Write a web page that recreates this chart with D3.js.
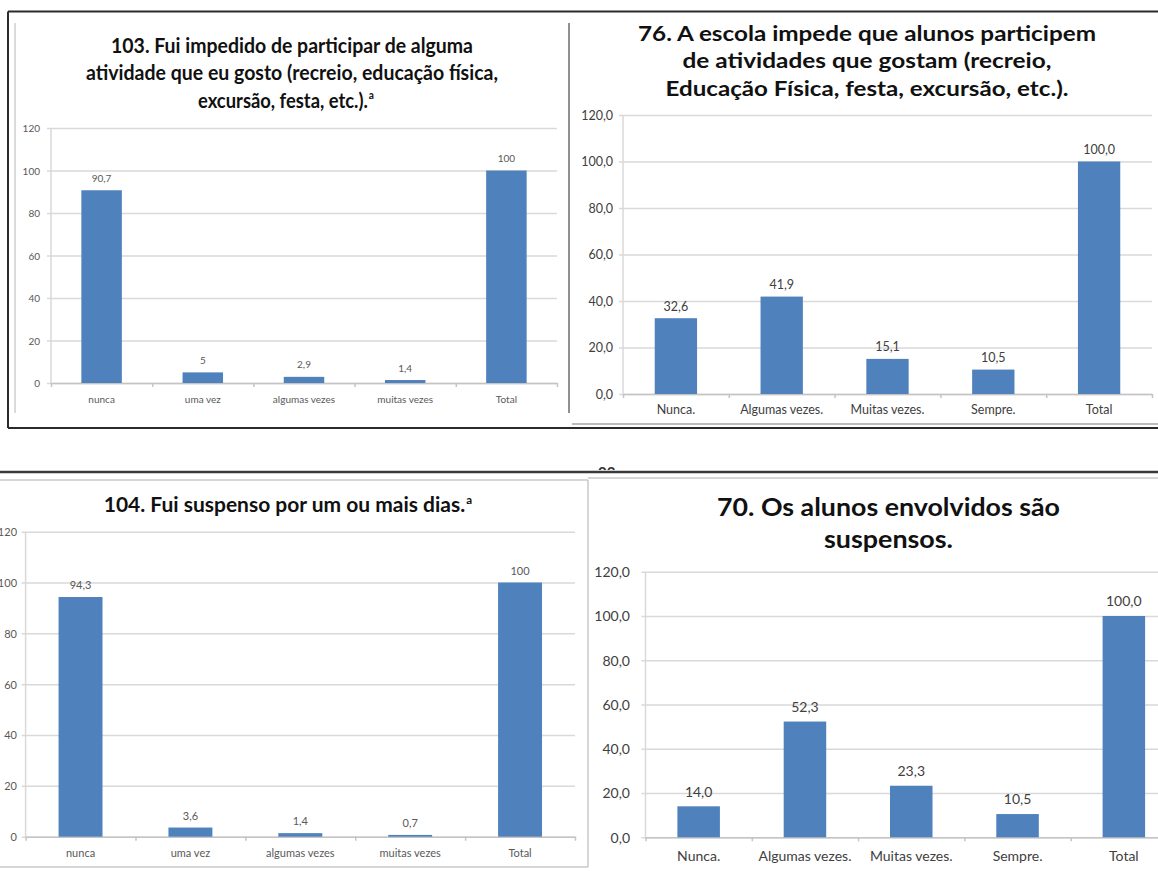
<!DOCTYPE html>
<html>
<head>
<meta charset="utf-8">
<script src="https://cdn.jsdelivr.net/npm/d3@7"></script>
<style>
  body { margin: 0; background: #fff; }
  svg { display: block; }
  text { font-family: Lato, "Open Sans", sans-serif; }
</style>
</head>
<body>
<svg id="chart" width="1158" height="871"></svg>
<script>
// Response categories
const catsStudent = ["nunca", "uma vez", "algumas vezes", "muitas vezes", "Total"];
const catsSchool = ["Nunca.", "Algumas vezes.", "Muitas vezes.", "Sempre.", "Total"];

// Percentages per question
const vals103 = [90.7, 5, 2.9, 1.4, 100];
const vals76 = [32.6, 41.9, 15.1, 10.5, 100.0];
const vals104 = [94.3, 3.6, 1.4, 0.7, 100];
const vals70 = [14.0, 52.3, 23.3, 10.5, 100.0];

// Value axis ticks
const yTicks = [0, 20, 40, 60, 80, 100, 120];

// Titles (one entry per line)
const title103 = ["103. Fui impedido de participar de alguma",
                  "atividade que eu gosto (recreio, educação física,",
                  "excursão, festa, etc.)."];
const title76 = ["76. A escola impede que alunos participem",
                 "de atividades que gostam (recreio,",
                 "Educação Física, festa, excursão, etc.)."];
const title104 = ["104. Fui suspenso por um ou mais dias."];
const title70 = ["70. Os alunos envolvidos são", "suspensos."];

const BAR = "#4F81BD";
const GRID = "#d9d9d9";

const ptLocale = d3.formatLocale({ decimal: ",", thousands: ".", grouping: [3], currency: ["R$", ""] });
const fmtPlain = v => ptLocale.format(",")(v);          // 90,7  5  100
const fmtOne = ptLocale.format(".1f");                  // 32,6  100,0

const svg = d3.select("#chart");

// ---- panel frames ----
const frame = svg.append("g").attr("fill", "none");
function seg(x1, y1, x2, y2, color, w) {
  frame.append("line").attr("x1", x1).attr("y1", y1).attr("x2", x2).attr("y2", y2)
    .attr("stroke", color).attr("stroke-width", w);
}
// top row outer box
seg(8, 11.5, 1158, 11.5, "#2b2b2b", 2);
seg(8, 11.5, 8, 428, "#2b2b2b", 2);
seg(8, 428, 1158, 428, "#2b2b2b", 2);
seg(15, 23, 15, 413, "#cfcfcf", 1.5);
seg(569, 23, 569, 413, "#6b6b6b", 1.5);
seg(572, 424, 1158, 424, "#bdbdbd", 2);
// bottom row
seg(0, 472, 1158, 472, "#3a3a3a", 2.5);
seg(0, 480, 588, 480, "#c8c8c8", 1.5);
seg(588, 478, 1158, 478, "#c8c8c8", 1.5);
seg(588, 480, 588, 867, "#c8c8c8", 1.5);
seg(0, 867, 588, 867, "#c8c8c8", 1.5);

// stray page-number fragment peeking above the rule
svg.append("clipPath").attr("id", "pgclip").append("rect")
  .attr("x", 590).attr("y", 460).attr("width", 40).attr("height", 10);
svg.append("text").attr("clip-path", "url(#pgclip)")
  .attr("x", 598).attr("y", 478).attr("font-size", 15).attr("font-weight", 700)
  .attr("fill", "#333").text("03");

// ---- bar chart panel ----
function panel(cfg) {
  const g = svg.append("g");
  const { x0, x1, yBase, yTop } = cfg;
  const y = d3.scaleLinear().domain([0, 120]).range([yBase, yTop]);
  const xb = d3.scaleBand().domain(cfg.cats).range([x0, x1]).paddingInner(0.6).paddingOuter(0.3);
  const xl = d3.scaleLinear().domain([0, cfg.cats.length]).range([x0, x1]);

  // gridlines + value labels
  const ya = g.append("g").attr("transform", `translate(${x0},0)`)
    .call(d3.axisLeft(y).tickValues(yTicks).tickSize(-(x1 - x0))
      .tickPadding(cfg.yPad).tickFormat(cfg.yFmt));
  ya.select(".domain").remove();
  ya.selectAll(".tick line").attr("x1", -4).attr("stroke", GRID).attr("stroke-width", 1.5);
  ya.selectAll(".tick text").attr("font-size", cfg.tickSize).attr("fill", cfg.tickColor)
    .attr("font-family", "Lato, sans-serif").attr("dy", "0.35em");

  // vertical value axis line
  g.append("line").attr("x1", x0).attr("x2", x0).attr("y1", yBase).attr("y2", yTop)
    .attr("stroke", GRID).attr("stroke-width", 1.5);

  // category boundary ticks + baseline
  const xa = g.append("g").attr("transform", `translate(0,${yBase})`)
    .call(d3.axisBottom(xl).tickValues(d3.range(cfg.cats.length + 1)).tickSize(4).tickSizeOuter(0).tickFormat(""));
  xa.selectAll("path,line").attr("stroke", "#c4c4c4").attr("stroke-width", 1.5);

  // category labels
  const xc = g.append("g").attr("transform", `translate(0,${yBase})`)
    .call(d3.axisBottom(xb).tickSize(0).tickPadding(cfg.catPad));
  xc.select(".domain").remove();
  xc.selectAll("text").attr("font-size", cfg.catSize).attr("fill", cfg.tickColor)
    .attr("font-family", "Lato, sans-serif").attr("dy", "0.35em");

  // bars
  g.append("g").selectAll("rect").data(cfg.values).join("rect")
    .attr("x", (d, i) => xb(cfg.cats[i]))
    .attr("width", xb.bandwidth())
    .attr("y", d => y(d))
    .attr("height", d => yBase - y(d))
    .attr("fill", BAR);

  // data labels
  g.append("g").selectAll("text").data(cfg.values).join("text")
    .attr("x", (d, i) => xb(cfg.cats[i]) + xb.bandwidth() / 2)
    .attr("y", d => y(d) - cfg.labOff)
    .attr("dy", "0.35em")
    .attr("text-anchor", "middle")
    .attr("font-size", cfg.labSize)
    .attr("fill", cfg.tickColor)
    .text(d => cfg.labFmt(d));

  // title (a footnote mark is set as a raised tspan on the same line)
  const tg = g.append("g").attr("font-weight", 700).attr("fill", "#111");
  cfg.title.forEach((line, i) => {
    const spec = cfg.titleLines[i];
    const t = tg.append("text")
      .attr("x", spec.cx)
      .attr("y", spec.cy + 0.36 * cfg.titleSize)
      .attr("text-anchor", "middle")
      .attr("font-size", cfg.titleSize)
      .attr("textLength", spec.w)
      .attr("lengthAdjust", "spacingAndGlyphs");
    t.append("tspan").text(line);
    if (spec.sup) {
      t.append("tspan")
        .attr("font-size", "0.55em")
        .attr("dy", "-0.75em")
        .attr("dx", "0.1em")
        .text("a");
    }
  });
}

panel({
  cats: catsStudent, values: vals103, title: title103,
  x0: 51, x1: 557, yBase: 383, yTop: 128,
  yPad: 11, yFmt: d3.format("d"), tickSize: 10, tickColor: "#595959",
  catPad: 16, catSize: 10, labSize: 10, labOff: 12, labFmt: fmtPlain,
  titleSize: 21,
  titleLines: [{ cx: 292, cy: 45, w: 362 }, { cx: 292, cy: 72.7, w: 412 }, { cx: 286, cy: 100, w: 176, sup: true }]
});

panel({
  cats: catsSchool, values: vals76, title: title76,
  x0: 623, x1: 1152, yBase: 394, yTop: 115,
  yPad: 10, yFmt: fmtOne, tickSize: 12.5, tickColor: "#404040",
  catPad: 16, catSize: 12.5, labSize: 12.5, labOff: 12, labFmt: fmtOne,
  titleSize: 20,
  titleLines: [{ cx: 867, cy: 33.3, w: 458 }, { cx: 867, cy: 60.7, w: 369 }, { cx: 867, cy: 88.3, w: 403 }]
});

panel({
  cats: catsStudent, values: vals104, title: title104,
  x0: 25.6, x1: 575, yBase: 836.7, yTop: 531.7,
  yPad: 8.6, yFmt: d3.format("d"), tickSize: 11, tickColor: "#595959",
  catPad: 16, catSize: 11, labSize: 11, labOff: 11.5, labFmt: fmtPlain,
  titleSize: 20,
  titleLines: [{ cx: 288, cy: 505, w: 368.5, sup: true }]
});

panel({
  cats: catsSchool, values: vals70, title: title70,
  x0: 645.5, x1: 1177, yBase: 837.3, yTop: 571.7,
  yPad: 15.5, yFmt: fmtOne, tickSize: 14, tickColor: "#404040",
  catPad: 18.7, catSize: 14, labSize: 14, labOff: 14.5, labFmt: fmtOne,
  titleSize: 25,
  titleLines: [{ cx: 888.5, cy: 506.7, w: 343 }, { cx: 888.5, cy: 539, w: 129 }]
});
</script>
</body>
</html>
